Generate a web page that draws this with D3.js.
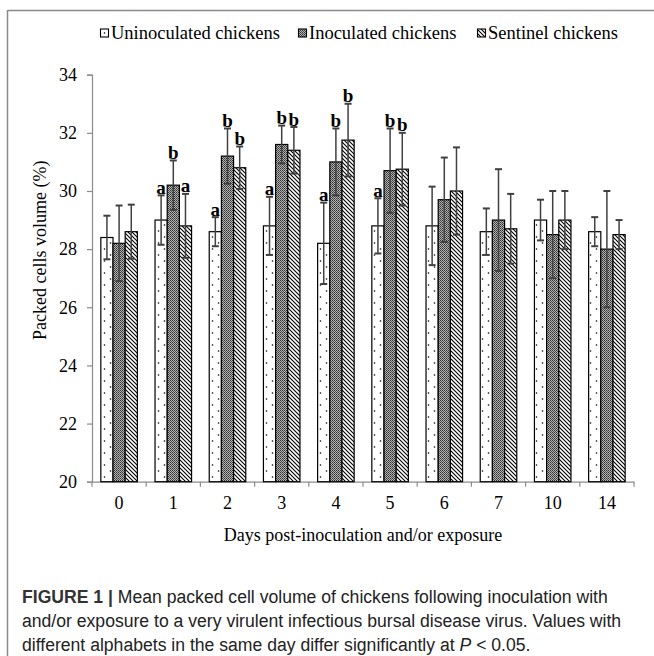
<!DOCTYPE html>
<html>
<head>
<meta charset="utf-8">
<script src="https://cdn.jsdelivr.net/npm/d3@7"></script>
<style>
  html, body { margin: 0; padding: 0; background: #fff; }
</style>
</head>
<body>
<div id="chart"></div>
<script>
const SERIF = "'Liberation Serif', 'Times New Roman', serif";
const SANS = "'Liberation Sans', Arial, sans-serif";
const COLOR_AXIS = "#8c8c8c";
const COLOR_ERR = "#404040";
const COLOR_FRAME = "#8a8a8a";

// data
const days = ["0", "1", "2", "3", "4", "5", "6", "7", "10", "14"];
const seriesNames = ["Uninoculated chickens", "Inoculated chickens", "Sentinel chickens"];
const uninoculated = [28.4, 29.0, 28.6, 28.8, 28.2, 28.8, 28.8, 28.6, 29.0, 28.6];
const uninoculatedErr = [0.75, 0.85, 0.5, 1.0, 1.4, 0.95, 1.35, 0.8, 0.7, 0.5];
const inoculated = [28.2, 30.2, 31.2, 31.6, 31.0, 30.7, 29.7, 29.0, 28.5, 28.0];
const inoculatedErr = [1.3, 0.85, 0.95, 0.65, 1.15, 1.45, 1.45, 1.75, 1.5, 2.0];
const sentinel = [28.6, 28.8, 30.8, 31.4, 31.75, 30.75, 30.0, 28.7, 29.0, 28.5];
const sentinelErr = [0.93, 1.1, 0.73, 0.8, 1.25, 1.25, 1.5, 1.2, 1.0, 0.5];
const uninoculatedSig = ["", "a", "a", "a", "a", "a", "", "", "", ""];
const inoculatedSig = ["", "b", "b", "b", "b", "b", "", "", "", ""];
const sentinelSig = ["", "a", "b", "b", "b", "b", "", "", "", ""];
const yTicks = [20, 22, 24, 26, 28, 30, 32, 34];

const patterns = ["dots", "checks", "hatch"];
const values = [uninoculated, inoculated, sentinel];
const errors = [uninoculatedErr, inoculatedErr, sentinelErr];
const sigs = [uninoculatedSig, inoculatedSig, sentinelSig];

const rows = [];
days.forEach((d, i) => {
    seriesNames.forEach((s, j) => {
        rows.push({ day: d, series: s, value: values[j][i], err: errors[j][i], sig: sigs[j][i], pattern: patterns[j] });
    });
});

const W = 654, H = 656;
const plot = { left: 92, right: 634, top: 74.7, bottom: 481.7 };

const svg = d3.select("#chart").append("svg")
    .attr("width", W)
    .attr("height", H);

// patterns
const defs = svg.append("defs");
let p = defs.append("pattern").attr("id", "dots").attr("patternUnits", "userSpaceOnUse")
    .attr("width", 12).attr("height", 12);
p.append("rect").attr("width", 12).attr("height", 12).attr("fill", "#fff");
p.append("circle").attr("cx", 2.5).attr("cy", 3).attr("r", 0.8).attr("fill", "#000");
p.append("circle").attr("cx", 8.5).attr("cy", 9).attr("r", 0.8).attr("fill", "#000");

p = defs.append("pattern").attr("id", "checks").attr("patternUnits", "userSpaceOnUse")
    .attr("width", 2).attr("height", 2);
p.append("rect").attr("width", 2).attr("height", 2).attr("fill", "#b4b4b4");
p.append("rect").attr("width", 1).attr("height", 1).attr("fill", "#2e2e2e");
p.append("rect").attr("x", 1).attr("y", 1).attr("width", 1).attr("height", 1).attr("fill", "#505050");

p = defs.append("pattern").attr("id", "hatch").attr("patternUnits", "userSpaceOnUse")
    .attr("width", 4).attr("height", 4);
p.append("rect").attr("width", 4).attr("height", 4).attr("fill", "#fff");
p.append("path").attr("d", "M-1,-1 L5,5 M-1,3 L1,5 M3,-1 L5,1")
    .attr("stroke", "#000").attr("stroke-width", 1.1);

// frame
svg.append("line").attr("x1", 7.5).attr("x2", W).attr("y1", 10.5).attr("y2", 10.5)
    .attr("stroke", COLOR_FRAME).attr("stroke-width", 1.5);
svg.append("line").attr("x1", 7.5).attr("x2", 7.5).attr("y1", 10).attr("y2", H)
    .attr("stroke", COLOR_FRAME).attr("stroke-width", 1.5);

// scales
const x0 = d3.scaleBand().domain(days).range([plot.left, plot.right]).padding(0);
const inset = x0.bandwidth() * 0.163;
const x1 = d3.scaleBand().domain(seriesNames).range([inset, x0.bandwidth() - inset]).padding(0);
const y = d3.scaleLinear().domain([20, 34]).range([plot.bottom, plot.top]);

// y axis
svg.append("g")
    .attr("transform", `translate(${plot.left},0)`)
    .call(d3.axisLeft(y).tickValues(yTicks).tickSize(5).tickPadding(10))
    .call(g => {
        g.attr("font-family", SERIF).attr("font-size", 18);
        g.select(".domain").attr("stroke", COLOR_AXIS).attr("stroke-width", 1.2);
        g.selectAll(".tick line").attr("stroke", COLOR_AXIS).attr("stroke-width", 1.2);
        g.selectAll("text").attr("fill", "#000");
    });

// x axis: labels centred in bands, ticks on band edges
svg.append("g")
    .attr("transform", `translate(0,${plot.bottom})`)
    .call(d3.axisBottom(x0).tickSize(0).tickPadding(15).tickSizeOuter(0))
    .call(g => {
        g.attr("font-family", SERIF).attr("font-size", 18);
        g.select(".domain").attr("stroke", COLOR_AXIS).attr("stroke-width", 1.2);
        g.selectAll("text").attr("fill", "#000");
    });
svg.append("g").selectAll("line")
    .data(days.concat(["end"]))
    .join("line")
    .attr("x1", (d, i) => plot.left + i * x0.step())
    .attr("x2", (d, i) => plot.left + i * x0.step())
    .attr("y1", plot.bottom)
    .attr("y2", plot.bottom + 5)
    .attr("stroke", COLOR_AXIS)
    .attr("stroke-width", 1.2);

// bars
const barLayer = svg.append("g");
barLayer.selectAll("rect")
    .data(rows)
    .join("rect")
    .attr("x", d => x0(d.day) + x1(d.series))
    .attr("y", d => y(d.value))
    .attr("width", x1.bandwidth())
    .attr("height", d => y(20) - y(d.value))
    .attr("fill", d => `url(#${d.pattern})`)
    .attr("stroke", "#000")
    .attr("stroke-width", 1.2);

// error bars
const errLayer = svg.append("g").attr("stroke", COLOR_ERR).attr("stroke-width", 1.5);
rows.forEach(d => {
    const cx = x0(d.day) + x1(d.series) + x1.bandwidth() / 2;
    errLayer.append("line").attr("x1", cx).attr("x2", cx)
        .attr("y1", y(d.value - d.err)).attr("y2", y(d.value + d.err));
    [d.value - d.err, d.value + d.err].forEach(v => {
        errLayer.append("line").attr("x1", cx - 3.5).attr("x2", cx + 3.5)
            .attr("y1", y(v)).attr("y2", y(v)).attr("stroke-width", 2);
    });
});

// significance letters
svg.append("g").selectAll("text")
    .data(rows.filter(d => d.sig))
    .join("text")
    .attr("x", d => x0(d.day) + x1(d.series) + x1.bandwidth() / 2)
    .attr("y", d => y(d.value + d.err) - 1.5)
    .attr("text-anchor", "middle")
    .attr("font-family", SERIF)
    .attr("font-weight", "bold")
    .attr("font-size", 19)
    .text(d => d.sig);

// axis titles
svg.append("text")
    .attr("x", (plot.left + plot.right) / 2)
    .attr("y", 541)
    .attr("text-anchor", "middle")
    .attr("font-family", SERIF)
    .attr("font-size", 18)
    .text("Days post-inoculation and/or exposure");
svg.append("text")
    .attr("transform", `translate(46,${(plot.top + plot.bottom) / 2 - 28}) rotate(-90)`)
    .attr("text-anchor", "middle")
    .attr("font-family", SERIF)
    .attr("font-size", 18)
    .text("Packed cells volume (%)");

// legend
const legend = svg.append("g").attr("font-family", SERIF).attr("font-size", 18.5);
const legendX = [100, 298, 477];
seriesNames.forEach((s, j) => {
    legend.append("rect")
        .attr("x", legendX[j] + 0.5).attr("y", 29)
        .attr("width", 8).attr("height", 8)
        .attr("fill", `url(#${patterns[j]})`)
        .attr("stroke", "#000").attr("stroke-width", 1.1);
    legend.append("text")
        .attr("x", legendX[j] + 11).attr("y", 38.5)
        .text(s);
});

// caption
const cap = svg.append("g").attr("font-family", SANS).attr("font-size", 17.6).attr("fill", "#222");
let t = cap.append("text").attr("x", 22).attr("y", 603);
t.append("tspan").attr("font-weight", "bold").attr("fill", "#333").text("FIGURE 1 | ");
t.append("tspan").text("Mean packed cell volume of chickens following inoculation with");
cap.append("text").attr("x", 22).attr("y", 627)
    .text("and/or exposure to a very virulent infectious bursal disease virus. Values with");
t = cap.append("text").attr("x", 22).attr("y", 651);
t.append("tspan").text("different alphabets in the same day differ significantly at ");
t.append("tspan").attr("font-style", "italic").text("P");
t.append("tspan").text(" < 0.05.");
</script>
</body>
</html>
